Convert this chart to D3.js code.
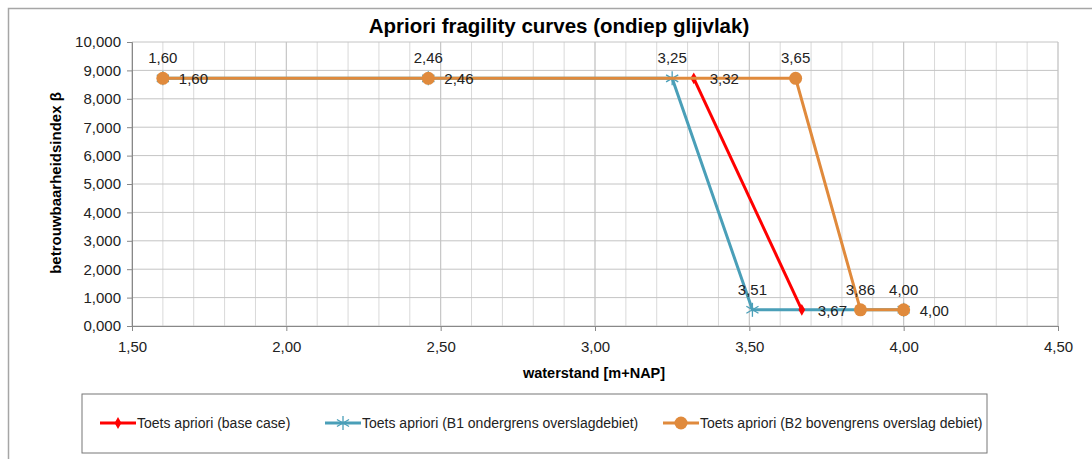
<!DOCTYPE html>
<html>
<head>
<meta charset="utf-8">
<script src="https://cdn.jsdelivr.net/npm/d3@7"></script>
<style>
  body { margin: 0; background: #fff; }
  text { font-family: "Liberation Sans", Arial, sans-serif; }
</style>
</head>
<body>
<script>
// data
var seriesNames = ["Toets apriori (base case)", "Toets apriori (B1 ondergrens overslagdebiet)", "Toets apriori (B2 bovengrens overslag debiet)"];
var baseX = [3.32, 3.67];
var baseY = [8.72, 0.57];
var b1X = [1.60, 2.46, 3.25, 3.51, 4.00];
var b1Y = [8.72, 8.72, 8.72, 0.57, 0.57];
var b2X = [1.60, 2.46, 3.65, 3.86, 4.00];
var b2Y = [8.72, 8.72, 8.72, 0.57, 0.57];
// which side each data label goes
var baseLabelPos = ["right", "right"];
var b1LabelPos = ["above", "above", "above", "above", "above"];
var b2LabelPos = ["right", "right", "above", "above", "right"];
var xTicks = [1.5, 2.0, 2.5, 3.0, 3.5, 4.0, 4.5];
var yTicks = [0, 1, 2, 3, 4, 5, 6, 7, 8, 9, 10];

var w = 1092, h = 459;
var mLeft = 132, mRight = 1058, mTop = 42, mBottom = 326;

var svg = d3.select("body").append("svg").attr("width", w).attr("height", h);

// outer chart border
svg.append("rect")
  .attr("x", 8.5).attr("y", 8.5).attr("width", w).attr("height", h)
  .style("fill", "white").style("stroke", "#a6a6a6").style("stroke-width", 1.5);

var x = d3.scaleLinear().domain([1.5, 4.5]).range([mLeft, mRight]);
var y = d3.scaleLinear().domain([0, 10]).range([mBottom, mTop]);

// gridlines
var minor = d3.range(15, 46).map(function(d) { return d / 10; });
svg.append("g").selectAll("line").data(minor).enter().append("line")
  .attr("x1", function(d) { return x(d); }).attr("x2", function(d) { return x(d); })
  .attr("y1", mTop).attr("y2", mBottom)
  .style("stroke", "#d9d9d9").style("stroke-width", 1);
svg.append("g").selectAll("line").data(yTicks).enter().append("line")
  .attr("x1", mLeft).attr("x2", mRight)
  .attr("y1", function(d) { return y(d); }).attr("y2", function(d) { return y(d); })
  .style("stroke", "#c4c4c4").style("stroke-width", 1);
svg.append("g").selectAll("line").data(xTicks).enter().append("line")
  .attr("x1", function(d) { return x(d); }).attr("x2", function(d) { return x(d); })
  .attr("y1", mTop).attr("y2", mBottom)
  .style("stroke", "#c4c4c4").style("stroke-width", 1);

// axes
var fmtX = function(d) { return d3.format(".2f")(d).replace(".", ","); };

var xAxis = svg.append("g").attr("transform", "translate(0," + mBottom + ")")
  .call(d3.axisBottom(x).tickValues(xTicks).tickFormat(fmtX).tickSize(5).tickPadding(10));
var yAxis = svg.append("g").attr("transform", "translate(" + mLeft + ",0)")
  .call(d3.axisLeft(y).tickValues(yTicks).tickFormat(function(d) { return d3.format(".3f")(d).replace(".", ","); }).tickSize(5).tickPadding(6));
[xAxis, yAxis].forEach(function(a) {
  a.selectAll("path, line").style("stroke", "#888");
  a.selectAll("text").style("font-size", "15px").style("fill", "#222");
});

// titles
svg.append("text").attr("x", 559).attr("y", 33).attr("text-anchor", "middle")
  .style("font-size", "20.5px").style("font-weight", "bold").text("Apriori fragility curves (ondiep glijvlak)");
svg.append("text").attr("x", 594).attr("y", 378).attr("text-anchor", "middle")
  .style("font-size", "14.5px").style("font-weight", "bold").text("waterstand [m+NAP]");
svg.append("text").attr("transform", "translate(61,183) rotate(-90)")
  .attr("text-anchor", "middle").style("font-size", "15px").style("font-weight", "bold")
  .text("betrouwbaarheidsindex β");

var colors = ["#ff0000", "#4a9fb8", "#e08a3c"];
var series = [
  { xs: baseX, ys: baseY, pos: baseLabelPos, color: colors[0], marker: "diamond" },
  { xs: b1X, ys: b1Y, pos: b1LabelPos, color: colors[1], marker: "star" },
  { xs: b2X, ys: b2Y, pos: b2LabelPos, color: colors[2], marker: "circle" }
];

var line = d3.line().x(function(d) { return x(d[0]); }).y(function(d) { return y(d[1]); });

function drawMarker(g, kind, color, cx, cy) {
  if (kind === "circle") {
    g.append("circle").attr("cx", cx).attr("cy", cy).attr("r", 6.5).style("fill", color);
  } else if (kind === "diamond") {
    g.append("path").attr("d", d3.symbol(d3.symbolDiamond, 40)())
      .attr("transform", "translate(" + cx + "," + cy + ")").style("fill", color);
  } else {
    var r = 7;
    [0, 60, 120].forEach(function(a) {
      var rad = a * Math.PI / 180;
      g.append("line")
        .attr("x1", cx - r * Math.sin(rad)).attr("y1", cy - r * Math.cos(rad))
        .attr("x2", cx + r * Math.sin(rad)).attr("y2", cy + r * Math.cos(rad))
        .style("stroke", color).style("stroke-width", 1.3);
    });
  }
}

// draw lines in order B1, base, B2 (B2 on top like the reference)
var order = [1, 0, 2];
order.forEach(function(i) {
  var s = series[i];
  var pts = s.xs.map(function(v, j) { return [v, s.ys[j]]; });
  var g = svg.append("g");
  g.append("path").datum(pts).attr("d", line)
    .style("fill", "none").style("stroke", s.color).style("stroke-width", 3);
  pts.forEach(function(p) { drawMarker(g, s.marker, s.color, x(p[0]), y(p[1])); });
});

// data labels
series.forEach(function(s) {
  s.xs.forEach(function(v, j) {
    var px = x(v), py = y(s.ys[j]);
    var t = svg.append("text").style("font-size", "15px").style("fill", "#222").text(fmtX(v));
    if (s.pos[j] === "above") {
      t.attr("x", px).attr("y", py - 15).attr("text-anchor", "middle");
    } else {
      t.attr("x", px + 16).attr("y", py + 6).attr("text-anchor", "start");
    }
  });
});

// legend
var lg = svg.append("g");
lg.append("rect").attr("x", 82).attr("y", 394).attr("width", 905).attr("height", 59)
  .style("fill", "white").style("stroke", "#777").style("stroke-width", 1);
var legX = [100, 325, 663];
series.forEach(function(s, i) {
  var ly = 423;
  lg.append("line").attr("x1", legX[i]).attr("x2", legX[i] + 36).attr("y1", ly).attr("y2", ly)
    .style("stroke", s.color).style("stroke-width", 3);
  drawMarker(lg, s.marker, s.color, legX[i] + 18, ly);
  lg.append("text").attr("x", legX[i] + 37).attr("y", ly + 5).style("font-size", "14px")
    .style("fill", "#222").text(seriesNames[i]);
});
</script>
</body>
</html>
